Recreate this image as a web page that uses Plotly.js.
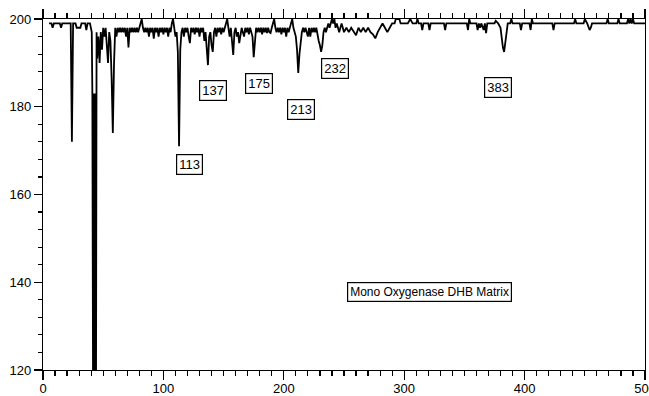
<!DOCTYPE html>
<html>
<head>
<meta charset="utf-8">
<script src="https://cdn.plot.ly/plotly-3.0.1.min.js"></script>
<style>html,body{margin:0;padding:0;background:#fff;}#chart{width:649px;height:396px;}</style>
</head>
<body>
<div id="chart"></div>
<script>
// m/z values (x) and signal (y)
const mz = [
5,7,8,9,14,15,16,23,24,25,27,28,29,30,31,32,35,36,37,39,40,40.5,41,41.6,42.2,42.8,43.4,44,
44.5,45,46,47,48,49,50,51,52,53,54,55,56,57,58,59,60,61,62,63,64,65,66,67,68,69,
70,71,72,73,74,75,76,77,78,79,80,81,82,83,84,85,86,87,88,89,90,91,92,93,94,95,
96,97,98,99,100,101,102,103,104,105,106,107,108,109,110,111,112,113,114,115,
116,117,118,119,120,121,122,123,124,125,126,127,128,129,130,131,132,133,134,
135,136,137,138,139,140,141,142,143,144,145,146,147,148,149,150,151,152,153,
154,155,156,157,158,159,160,161,162,163,164,165,166,167,168,169,170,171,172,
173,174,175,176,177,178,179,180,181,182,183,184,185,186,187,188,189,190,191,
192,193,194,195,196,197,198,199,200,201,202,203,204,205,206,207,208,209,210,
211,212,213,214,215,216,217,218,219,220,221,222,223,224,225,226,227,228,229,
230,231,232,233,234,235,236,237,238,239,240,241,242,243,244,245,246,247,248,
249,250,252,254,256,258,260,262,264,266,268,270,272,274,276,278,280,282,284,
286,288,290,292,293,296,297,300,303,305,307,310,311,312,314,315,316,320,321,
322,333,334,335,352,353,354,355,360,361,362,363,364,366,367,368,369,375,376,
378,380,381,382,383,384,385,386,388,389,390,396,397,398,404,405,406,407,423,
424,425,441,442,443,449,450,452,453,454,455,456,468,469,470,477,478,479,485,
486,487,488,489,490,491,500
];
const signal = [
199,199,198,199,199,198,199,199,172,199,199,198,198,198,198,199,199,197.5,199,199,197,197,183,110,183,110,183,110,
197,191,196,190,197,193,198,196,198,194,190,197,195,186.5,174,190,198,196,198,197,198,197,198,197,198,196,
198,193.5,198,197,198,197,198,197,198,197,198,199,200,198,197,198,197,198,196,198,197,198,195.5,198,197,198,
196,198,197,198,196.5,198,197,198,196,198,197,199,200,198,196,197,192.5,171,193,197,
198,196,198,197,198,196,194.5,198,197,198,196.5,198,197,198,196,198,197,198,195,
197,193,189.5,196,197,194,192.5,197,198,196,198,197,198,196.5,198,197,198,199,200,
198,196,198,194,191.8,197,198,196,197,194.5,197,198,197,196,198,197,198,196.5,198,
197,196,191.3,196,198,197,198,197,198,196.5,198,197,198,196.8,198,197,196.8,198,199,
200,198,197,198,197,198,196.5,198,197,198,196,198,197,198,199,200,198,197,196,
193,187.7,192,195,197,198,197,198,197,196,198,196,198,197,198,197,198,196,195,
194,192.5,194,197,198,197,198,199,198,199,200,199,200,198,199,198,197,198,199,
198,197,198,197,198,197,196.3,198,197,198,197,198,197,196.5,195.6,197,198,199,198,
197,198,199,199,200,200,199,199,199,200,199,199,200,199,199,197.5,199,199,197.5,
199,199,197.5,199,199,197.5,200,199,199,197.5,199,198,199,197.5,199,196.8,199,199,199.6,
199,198,195,193.5,192.5,195,198,199,199,200,199,199,197.5,199,199,197.5,200,199,199,
197.5,199,199,200,199,199,200,199,198,197.5,198,199,199,200,199,199,200,199,199,
200,199,200,199,200,199,199
];
// peak labels
const labelText = ["113","137","175","213","232","383","Mono Oxygenase DHB Matrix"];
const labelX = [121.7,141.6,179.4,213.9,242.5,377.9,320.6];
const labelY = [166.8,183.6,185.2,179.3,188.8,184.3,137.8];

const FONT = "Liberation Sans, Arial, Helvetica, sans-serif";
const trace = {
  x: mz, y: signal, type: "scatter", mode: "lines",
  line: {color: "#000", width: 1.8}, hoverinfo: "skip"
};
const annotations = labelText.map((t, i) => ({
  x: labelX[i], y: labelY[i], xref: "x", yref: "y", text: t, showarrow: false,
  font: {family: FONT, size: i === 6 ? 12 : 13, color: "#000"},
  bgcolor: "#fff", bordercolor: "#000", borderwidth: 1.2, borderpad: 2
}));
const layout = {
  width: 649, height: 396,
  margin: {l: 43, r: 4, t: 19, b: 26},
  paper_bgcolor: "#fff", plot_bgcolor: "#fff",
  showlegend: false,
  font: {family: FONT, size: 13, color: "#000"},
  xaxis: {
    range: [0, 500], showgrid: false, zeroline: false,
    showline: true, linecolor: "#000", linewidth: 1.2, mirror: "ticks",
    ticks: "outside", ticklen: 9, tickwidth: 1.2, tickcolor: "#000",
    tick0: 0, dtick: 100, ticklabeloverflow: "allow", ticklabelstandoff: -3,
    minor: {dtick: 10, ticks: "outside", ticklen: 5, tickwidth: 1.2, tickcolor: "#000", showgrid: false},
    tickfont: {family: FONT, size: 13, color: "#000"}
  },
  yaxis: {
    range: [120, 200], showgrid: false, zeroline: false,
    showline: true, linecolor: "#000", linewidth: 1.2, mirror: true,
    ticks: "outside", ticklen: 8, tickwidth: 1.2, tickcolor: "#000",
    tick0: 120, dtick: 20,
    minor: {dtick: 4, ticks: "outside", ticklen: 4, tickwidth: 1.2, tickcolor: "#000", showgrid: false},
    tickfont: {family: FONT, size: 13, color: "#000"}
  },
  annotations: annotations
};
Plotly.newPlot("chart", [trace], layout, {staticPlot: true, displayModeBar: false});
</script>
</body>
</html>
